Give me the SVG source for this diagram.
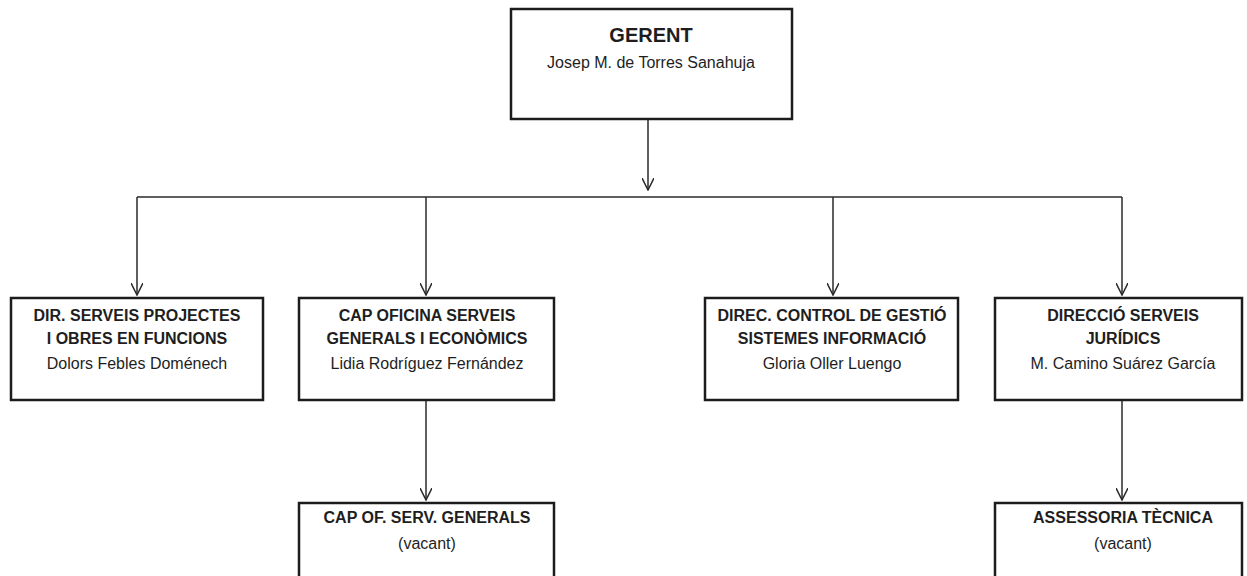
<svg xmlns="http://www.w3.org/2000/svg" width="1247" height="576" viewBox="0 0 1247 576">
<style>
.box{fill:#fff;stroke:#1c1c1c;stroke-width:2.5}
.t{font-family:"Liberation Sans",Arial,sans-serif;font-size:16px;font-weight:bold;fill:#1e1e1e;text-anchor:middle}
.n{font-family:"Liberation Sans",Arial,sans-serif;font-size:16px;fill:#1e1e1e;text-anchor:middle}
.g{font-family:"Liberation Sans",Arial,sans-serif;font-size:20px;font-weight:bold;fill:#1e1e1e;text-anchor:middle}
.c{fill:none;stroke:#2a2a2a;stroke-width:1.5}
</style>
<defs>
<marker id="arr" viewBox="0 0 13 12" refX="12" refY="6" markerWidth="13" markerHeight="12" markerUnits="userSpaceOnUse" orient="auto">
<path d="M0,0 L12,6 L0,12" fill="none" stroke="#2a2a2a" stroke-width="1.5"/>
</marker>
</defs>
<rect width="1247" height="576" fill="#fff"/>
<g id="connectors">
<path class="c" d="M648,120 V190" marker-end="url(#arr)"/>
<path class="c" d="M137,197 H1122"/>
<path class="c" d="M137,197 V295" marker-end="url(#arr)"/>
<path class="c" d="M426,197 V295" marker-end="url(#arr)"/>
<path class="c" d="M833,197 V295" marker-end="url(#arr)"/>
<path class="c" d="M1122,197 V295" marker-end="url(#arr)"/>
<path class="c" d="M426,401 V500" marker-end="url(#arr)"/>
<path class="c" d="M1122,401 V500" marker-end="url(#arr)"/>
</g>
<g id="gerent">
<rect class="box" x="511" y="9" width="281" height="110"/>
<text class="g" x="651" y="42">GERENT</text>
<text class="n" x="651" y="68">Josep M. de Torres Sanahuja</text>
</g>
<g id="dir-projectes">
<rect class="box" x="11" y="298" width="252" height="102"/>
<text class="t" x="137" y="321">DIR. SERVEIS PROJECTES</text>
<text class="t" x="137" y="344">I OBRES EN FUNCIONS</text>
<text class="n" x="137" y="369">Dolors Febles Doménech</text>
</g>
<g id="cap-oficina">
<rect class="box" x="299" y="298" width="255" height="102"/>
<text class="t" x="427" y="321">CAP OFICINA SERVEIS</text>
<text class="t" x="427" y="344">GENERALS I ECONÒMICS</text>
<text class="n" x="427" y="369">Lidia Rodríguez Fernández</text>
</g>
<g id="direc-control">
<rect class="box" x="705" y="298" width="253" height="102"/>
<text class="t" x="832" y="321">DIREC. CONTROL DE GESTIÓ</text>
<text class="t" x="832" y="344">SISTEMES INFORMACIÓ</text>
<text class="n" x="832" y="369">Gloria Oller Luengo</text>
</g>
<g id="direccio-juridics">
<rect class="box" x="995" y="298" width="247" height="102"/>
<text class="t" x="1123" y="321">DIRECCIÓ SERVEIS</text>
<text class="t" x="1123" y="344">JURÍDICS</text>
<text class="n" x="1123" y="369">M. Camino Suárez García</text>
</g>
<g id="cap-serv-generals">
<rect class="box" x="299" y="503" width="255" height="90"/>
<text class="t" x="427" y="523">CAP OF. SERV. GENERALS</text>
<text class="n" x="427" y="549">(vacant)</text>
</g>
<g id="assessoria">
<rect class="box" x="995" y="503" width="247" height="90"/>
<text class="t" x="1123" y="523">ASSESSORIA TÈCNICA</text>
<text class="n" x="1123" y="549">(vacant)</text>
</g>
</svg>
